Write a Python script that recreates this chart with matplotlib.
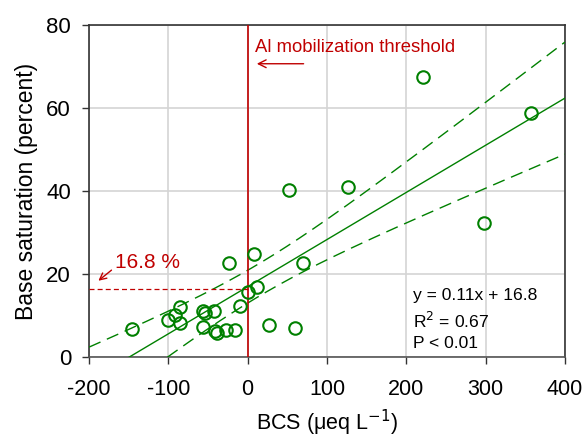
import numpy as np
import matplotlib
matplotlib.use("Agg")
import matplotlib.pyplot as plt

plt.rcParams['font.family'] = ['Liberation Sans', 'DejaVu Sans']
plt.rcParams['axes.unicode_minus'] = False

# BCS (ueq/L) vs base saturation (%)
bcs = [-146.5, -100.3, -91.8, -85.5, -85.5, -56.1, -53.9, -42.2, -56.1, -41.3,
       -39.1, -27.8, -16.0, -23.6, -9.3, 0.0, 8.0, 12.1, 26.9, 59.7,
       69.4, 297.5, 52.1, 127.0, 220.5, 357.3]
base_sat = [6.9, 9.0, 10.2, 12.2, 8.3, 11.2, 10.6, 11.2, 7.2, 6.4,
            5.9, 6.6, 6.6, 22.8, 12.3, 15.6, 24.9, 16.8, 7.8, 7.1,
            22.8, 32.4, 40.3, 40.9, 67.4, 58.8]

x_ticks = [-200, -100, 0, 100, 200, 300, 400]
y_ticks = [0, 20, 40, 60, 80]
threshold_label = "Al mobilization threshold"
intercept_label = "16.8 %"
intercept_line = 16.5
stats_text = "y = 0.11x + 16.8\nR$^2$ = 0.67\nP < 0.01"
t_crit = 2.064  # t(0.975, df=24)

green = "#008000"
red = "#c00000"

x = np.array(bcs)
y = np.array(base_sat)
n = len(x)
slope, icpt = np.polyfit(x, y, 1)
resid = y - (slope * x + icpt)
s = np.sqrt(np.sum(resid ** 2) / (n - 2))
sxx = np.sum((x - x.mean()) ** 2)

xs = np.linspace(-200, 400, 300)
fit = slope * xs + icpt
half = t_crit * s * np.sqrt(1.0 / n + (xs - x.mean()) ** 2 / sxx)

fig = plt.figure(figsize=(5.86, 4.41), dpi=100)
ax = fig.add_axes([0.152, 0.19, 0.812, 0.753])

ax.set_xlim(-200, 400)
ax.set_ylim(0, 80)
ax.set_xticks(x_ticks)
ax.set_yticks(y_ticks)
ax.grid(True, color="#d4d4d4", linewidth=1.2, zorder=0)
ax.set_axisbelow(True)

ax.plot(xs, fit, color=green, lw=1.0, zorder=3)
ax.plot(xs, fit + half, color=green, lw=1.0, dashes=(9, 5), zorder=3)
ax.plot(xs, fit - half, color=green, lw=1.0, dashes=(9, 5), zorder=3)
ax.plot(x, y, 'o', mfc='none', mec=green, mew=1.5, ms=9, zorder=4, clip_on=False)

# threshold line and intercept marker
ax.axvline(0, color=red, lw=1.2, zorder=3)
ax.plot([-200, 0], [intercept_line, intercept_line], color=red, lw=0.9, dashes=(4, 2.5), zorder=3)

ax.text(9, 73.6, threshold_label, color=red, fontsize=13.3)
ax.annotate("", xy=(8, 70.7), xytext=(74, 70.7),
            arrowprops=dict(arrowstyle="->", color=red, lw=1.0, mutation_scale=14))
ax.text(-167.5, 21.6, intercept_label, color=red, fontsize=15)
ax.annotate("", xy=(-191, 18.0), xytext=(-169, 21.4),
            arrowprops=dict(arrowstyle="->", color=red, lw=1.0, mutation_scale=12))

ax.text(208, 1.6, stats_text, fontsize=12.6, linespacing=1.42, va="bottom")

for sp in ax.spines.values():
    sp.set_color("#333333")
    sp.set_linewidth(1.2)
ax.spines['bottom'].set_color("#555555")
ax.tick_params(axis='both', direction='out', length=5, width=1.0, color="#333333",
               labelsize=15.5)
ax.tick_params(axis='x', pad=11)
ax.tick_params(axis='y', pad=8, labelsize=16)

ax.set_xlabel("BCS (μeq L$^{-1}$)", fontsize=15.5, labelpad=5)
ax.set_ylabel("Base saturation (percent)", fontsize=16.5, labelpad=6)

fig.savefig("out.png", dpi=100)
